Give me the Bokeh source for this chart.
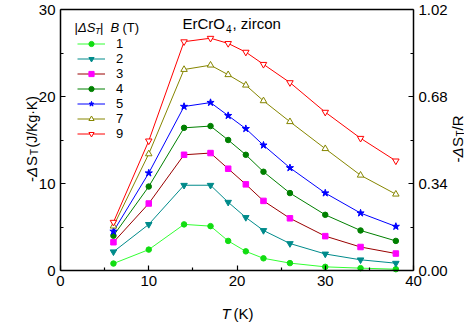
import math
from bokeh.plotting import figure
from bokeh.models import (Range1d, LinearAxis, FixedTicker, PrintfTickFormatter,
                          Label, Legend, LegendItem)
from bokeh.embed import file_html
from bokeh.resources import INLINE

# ---------------- data ----------------
T = [6, 10, 14, 17, 19, 21, 23, 26, 30, 34, 38]
field_labels = ["1", "2", "3", "4", "5", "7", "9"]
dS_1T = [0.8, 2.4, 5.3, 5.1, 3.4, 2.2, 1.4, 0.85, 0.42, 0.27, 0.15]
dS_2T = [2.15, 5.3, 9.8, 9.8, 7.85, 6.1, 4.6, 3.1, 1.9, 1.23, 0.84]
dS_3T = [3.25, 7.7, 13.3, 13.5, 11.7, 9.9, 8.0, 6.0, 3.95, 2.7, 1.95]
dS_4T = [4.0, 9.65, 16.4, 16.6, 15.0, 13.3, 11.35, 8.9, 6.4, 4.6, 3.4]
dS_5T = [4.5, 11.2, 18.85, 19.3, 17.8, 16.3, 14.4, 11.8, 8.9, 6.6, 5.06]
dS_7T = [5.1, 13.4, 23.1, 23.6, 22.5, 21.3, 19.5, 17.1, 14.0, 10.95, 8.77]
dS_9T = [5.55, 14.9, 26.3, 26.7, 26.1, 25.1, 23.7, 21.6, 18.2, 15.2, 12.6]
series = [dS_1T, dS_2T, dS_3T, dS_4T, dS_5T, dS_7T, dS_9T]

x_ticks = [0, 10, 20, 30, 40]
y_ticks = [0, 10, 20, 30]
r_ticks = [0.0, 0.34, 0.68, 1.02]
X_MIN, X_MAX = 0, 40
Y_MIN, Y_MAX = 0, 30
R_MAX = 1.02

# ---------------- styles ----------------
line_colors = ["#33ff33", "#008b8b", "#990000", "#008000", "#0000ff", "#868600", "#ff0000"]
mk_line = ["#11dd11", "#008b8b", "#ff00ff", "#008000", "#0000ff", "#868600", "#ff0000"]
mk_fill = ["#11dd11", "#008b8b", "#ff00ff", "#008000", "#0000ff", "#ffffff", "#ffffff"]
markers = ["circle", "inverted_triangle", "square", "circle", "star", "triangle", "inverted_triangle"]
mk_size = [5.5, 6.5, 5.5, 5.5, 7.5, 6.5, 6.5]

FONT = "Liberation Sans"
W, H = 464, 322
AL, AR, AT, AB = 60, 413, 9, 270  # axis-box edges in px

# the frame fills the whole canvas; axes are pinned at the data limits
sx = (AR - AL) / (X_MAX - X_MIN)
sy = (AB - AT) / (Y_MAX - Y_MIN)
x_start = X_MIN - AL / sx
x_end = x_start + W / sx
y_start = Y_MIN - (H - AB) / sy
y_end = y_start + H / sy
rk = R_MAX / Y_MAX


def dx(px):
    return x_start + px / sx


def dy(py):
    return y_end - py / sy


p = figure(width=W, height=H, output_backend="svg", toolbar_location=None,
           x_range=Range1d(x_start, x_end), y_range=Range1d(y_start, y_end),
           min_border=0, min_border_left=0, min_border_right=0,
           min_border_top=0, min_border_bottom=0)
p.xgrid.visible = False
p.ygrid.visible = False
p.outline_line_color = None
p.background_fill_color = "white"
p.border_fill_color = "white"

p.extra_y_ranges = {"r": Range1d(y_start * rk, y_end * rk)}

xaxis = p.xaxis[0]
yaxis = p.yaxis[0]
raxis = LinearAxis(y_range_name="r")
p.add_layout(raxis, "right")
taxis = LinearAxis()
p.add_layout(taxis, "above")

xaxis.fixed_location = Y_MIN
xaxis.bounds = (X_MIN, X_MAX)
yaxis.fixed_location = X_MIN
yaxis.bounds = (Y_MIN, Y_MAX)
raxis.fixed_location = X_MAX
raxis.bounds = (0, R_MAX)
taxis.fixed_location = Y_MAX
taxis.bounds = (X_MIN, X_MAX)

xaxis.ticker = FixedTicker(ticks=x_ticks, minor_ticks=[5, 15, 25, 35])
yaxis.ticker = FixedTicker(ticks=y_ticks, minor_ticks=[5, 15, 25])
raxis.ticker = FixedTicker(ticks=r_ticks, minor_ticks=[0.17, 0.51, 0.85])
raxis.formatter = PrintfTickFormatter(format="%.2f")
taxis.ticker = FixedTicker(ticks=[], minor_ticks=[])
taxis.major_label_text_font_size = "0px"

for ax in [xaxis, yaxis, raxis, taxis]:
    ax.axis_line_width = 1.5
    ax.axis_line_color = "black"
    ax.major_tick_in = 5
    ax.major_tick_out = 0
    ax.minor_tick_in = 3
    ax.minor_tick_out = 0
    ax.major_tick_line_width = 1.2
    ax.minor_tick_line_width = 1.2
    ax.major_label_text_font = FONT
    ax.major_label_text_color = "black"
    ax.major_label_standoff = 5
for ax in [xaxis, yaxis, raxis]:
    ax.major_label_text_font_size = "15px"

items = []
for i, vals in enumerate(series):
    lr = p.line(T, vals, line_color=line_colors[i], line_width=1)
    sr = p.scatter(T, vals, marker=markers[i], size=mk_size[i],
                   fill_color=mk_fill[i], line_color=mk_line[i], line_width=1)
    items.append(LegendItem(label=field_labels[i], renderers=[lr, sr]))

legend = Legend(items=items, location=(17 + AL, 129 + (H - AB)), padding=0, margin=0,
                border_line_color=None, background_fill_alpha=0,
                glyph_width=28, glyph_height=13, label_height=13, spacing=0,
                label_standoff=11, label_text_font=FONT,
                label_text_font_size="13px", label_text_color="black")
p.add_layout(legend)


def lab(px, py, text, size=15, style="normal", angle=0.0):
    p.add_layout(Label(x=dx(px), y=dy(py), text=text, text_font=FONT,
                       text_font_size=f"{size}px", text_font_style=style,
                       text_color="black", text_align="left",
                       text_baseline="alphabetic", angle=angle))


# title
lab(182, 23, "ErCrO")
lab(225.5, 28, "4", size=10)
lab(232, 23, ", zircon")

# legend header
lab(74, 27, "|", size=13)
lab(77.5, 27, "ΔS", size=13, style="italic")
lab(94.5, 30, "T", size=9, style="italic")
lab(99.5, 27, "|", size=13)
lab(110, 27, "B", size=13, style="italic")
lab(122, 27, "(T)", size=13)

# x label
lab(221, 313, "T", size=15, style="italic")
lab(233, 313, "(K)", size=15)

# left y label (rotated)
A = math.pi / 2
lab(31, 181.5, "-", size=15, angle=A)
lab(31, 176.5, "Δ", size=15, style="italic", angle=A)
lab(31, 165.5, "S", size=15, angle=A)
lab(34, 154.5, "T", size=10, angle=A)
lab(31, 147, "(J/Kg·K)", size=14, angle=A)

# right y label (rotated)
lab(457, 162, "-", size=15, angle=A)
lab(457, 157, "Δ", size=15, style="italic", angle=A)
lab(457, 146.5, "S", size=15, angle=A)
lab(460, 136, "T", size=10, angle=A)
lab(457, 130, "/R", size=15, angle=A)

open("out.html", "w").write(file_html(p, INLINE))
